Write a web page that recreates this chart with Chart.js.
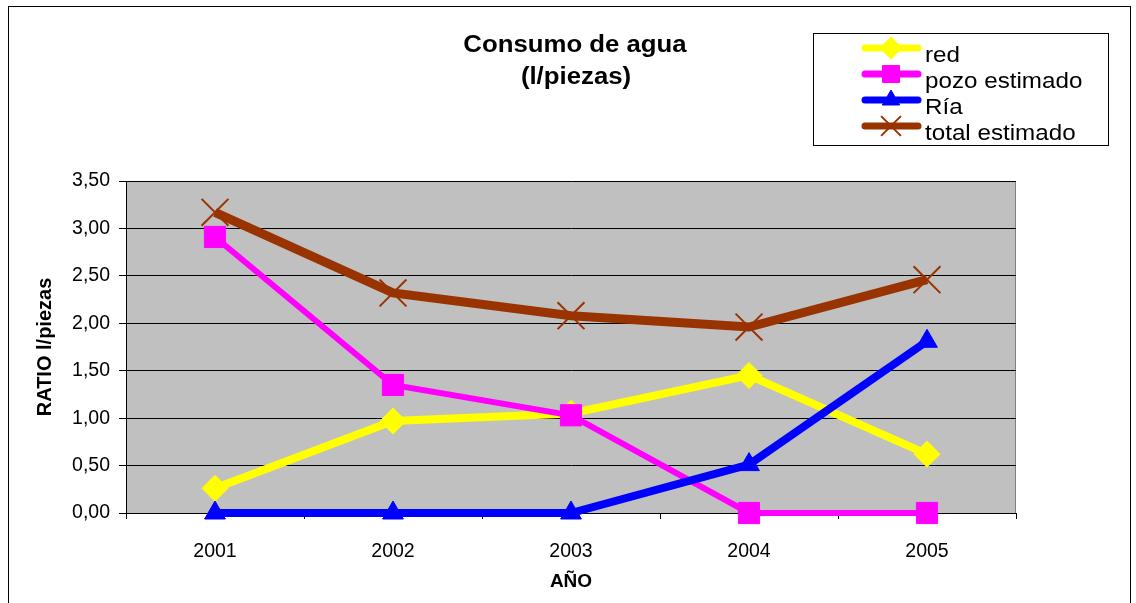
<!DOCTYPE html>
<html>
<head>
<meta charset="utf-8">
<script src="https://cdn.jsdelivr.net/npm/chart.js@4/dist/chart.umd.min.js"></script>
<style>
  html, body { margin: 0; padding: 0; background: #fff; }
  #wrap { width: 1136px; height: 603px; }
</style>
</head>
<body>
<div id="wrap"><canvas id="waterChart" width="1136" height="603"></canvas></div>
<script>
const years = ["2001", "2002", "2003", "2004", "2005"];
const redValues = [0.26, 0.97, 1.05, 1.45, 0.62];
const pozoValues = [2.91, 1.35, 1.03, 0, 0];
const riaValues = [0, 0, 0, 0.51, 1.81];
const totalValues = [3.17, 2.32, 2.08, 1.96, 2.46];
const titleLines = ["Consumo de agua", "(l/piezas)"];

const FONT = "'Liberation Sans', Arial, sans-serif";

// text a bit wider than the font, like the original export
function stretchedText(ctx, text, x, y, sx, align) {
  ctx.save();
  ctx.translate(x, y);
  ctx.scale(sx, 1);
  ctx.textAlign = align;
  ctx.fillText(text, 0, 0);
  ctx.restore();
}

// gray plot background + outer frame
const backgroundPlugin = {
  id: "plotBackground",
  beforeDraw(chart) {
    const { ctx, chartArea: a } = chart;
    ctx.save();
    ctx.fillStyle = "#fff";
    ctx.fillRect(0, 0, chart.width, chart.height);
    ctx.fillStyle = "#C0C0C0";
    ctx.fillRect(a.left, a.top, a.right - a.left, a.bottom - a.top);
    ctx.strokeStyle = "#808080";
    ctx.lineWidth = 1;
    ctx.beginPath();
    ctx.moveTo(a.left, a.top + 0.5);
    ctx.lineTo(a.right - 0.5, a.top + 0.5);
    ctx.lineTo(a.right - 0.5, a.bottom);
    ctx.stroke();
    ctx.strokeStyle = "#000";
    ctx.strokeRect(8.5, 6.5, 1122, 640);
    ctx.restore();
  }
};

// title and legend box
const decorPlugin = {
  id: "decor",
  afterDraw(chart) {
    const ctx = chart.ctx;
    ctx.save();
    ctx.fillStyle = "#000";
    ctx.textBaseline = "middle";
    ctx.font = "bold 23px " + FONT;
    stretchedText(ctx, titleLines[0], 575, 46, 1.12, "center");
    stretchedText(ctx, titleLines[1], 576, 78, 1.12, "center");

    ctx.fillStyle = "#fff";
    ctx.fillRect(813.5, 33.5, 295, 112);
    ctx.strokeStyle = "#000";
    ctx.lineWidth = 1;
    ctx.strokeRect(813.5, 33.5, 295, 112);

    const rowsY = [48, 74, 100, 126];
    chart.data.datasets.forEach((ds, i) => {
      const y = rowsY[i];
      ctx.strokeStyle = ds.borderColor;
      ctx.lineWidth = 7;
      ctx.lineCap = "round";
      ctx.beginPath();
      ctx.moveTo(865, y);
      ctx.lineTo(918, y);
      ctx.stroke();
      ctx.fillStyle = ds.pointBackgroundColor;
      ctx.strokeStyle = ds.pointBorderColor;
      ctx.lineWidth = ds.pointBorderWidth;
      ctx.lineCap = "butt";
      Chart.helpers.drawPoint(ctx, {
        pointStyle: ds.pointStyle,
        radius: ds.legendRadius,
        borderWidth: ds.pointBorderWidth,
        rotation: 0
      }, 891, y);
      ctx.fillStyle = "#000";
      ctx.font = "22px " + FONT;
      stretchedText(ctx, ds.label, 925, y + 8, 1.1, "left");
    });
    ctx.restore();
  }
};

const datasets = [
  {
    label: "red",
    data: redValues,
    order: 4,
    borderColor: "#FFFF00",
    backgroundColor: "#FFFF00",
    borderWidth: 8,
    pointStyle: "rectRot",
    pointRadius: 13,
    legendRadius: 11,
    pointBorderWidth: 1,
    pointBackgroundColor: "#FFFF00",
    pointBorderColor: "#FFFF00"
  },
  {
    label: "pozo estimado",
    data: pozoValues,
    order: 3,
    borderColor: "#FF00FF",
    backgroundColor: "#FF00FF",
    borderWidth: 6,
    pointStyle: "rect",
    pointRadius: 15,
    legendRadius: 12,
    pointBorderWidth: 1,
    pointBackgroundColor: "#FF00FF",
    pointBorderColor: "#FF00FF"
  },
  {
    label: "Ría",
    data: riaValues,
    order: 2,
    borderColor: "#0000FF",
    backgroundColor: "#0000FF",
    borderWidth: 8,
    pointStyle: "triangle",
    pointRadius: 12,
    legendRadius: 10,
    pointBorderWidth: 1,
    pointBackgroundColor: "#0000FF",
    pointBorderColor: "#0000FF"
  },
  {
    label: "total estimado",
    data: totalValues,
    order: 1,
    borderColor: "#993300",
    backgroundColor: "#993300",
    borderWidth: 9,
    pointStyle: "crossRot",
    pointRadius: 19,
    legendRadius: 14,
    pointBorderWidth: 2,
    pointBackgroundColor: "#993300",
    pointBorderColor: "#993300"
  }
];
datasets.forEach(d => { d.clip = false; });

const ctx = document.getElementById("waterChart").getContext("2d");

new Chart(ctx, {
  type: "line",
  data: { labels: years, datasets: datasets },
  options: {
    responsive: false,
    animation: false,
    layout: { padding: { top: 181, left: 30, right: 120, bottom: 10 } },
    plugins: {
      legend: { display: false },
      tooltip: { enabled: false }
    },
    elements: { line: { tension: 0 } },
    scales: {
      x: {
        offset: true,
        afterFit(scale) { scale.height = 80; },
        grid: {
          offset: true,
          drawOnChartArea: false,
          drawTicks: true,
          tickLength: 6,
          color: "#000"
        },
        border: { color: "#000", width: 1 },
        ticks: { color: "#000", font: { family: FONT, size: 19.5 }, padding: 21 },
        title: {
          display: true,
          text: "AÑO",
          color: "#000",
          font: { family: FONT, size: 19, weight: "bold" },
          padding: { top: 6, bottom: 0 }
        }
      },
      y: {
        min: 0,
        max: 3.5,
        afterFit(scale) { scale.width = 96; },
        grid: {
          color: "#000",
          drawTicks: true,
          tickLength: 7
        },
        border: { color: "#000", width: 1 },
        ticks: {
          stepSize: 0.5,
          color: "#000",
          font: { family: FONT, size: 19.5 },
          padding: 9,
          callback: v => v.toFixed(2).replace(".", ",")
        },
        title: {
          display: true,
          text: "RATIO l/piezas",
          color: "#000",
          font: { family: FONT, size: 20, weight: "bold" },
          padding: { top: 3, bottom: 4 }
        }
      }
    }
  },
  plugins: [backgroundPlugin, decorPlugin]
});
</script>
</body>
</html>
